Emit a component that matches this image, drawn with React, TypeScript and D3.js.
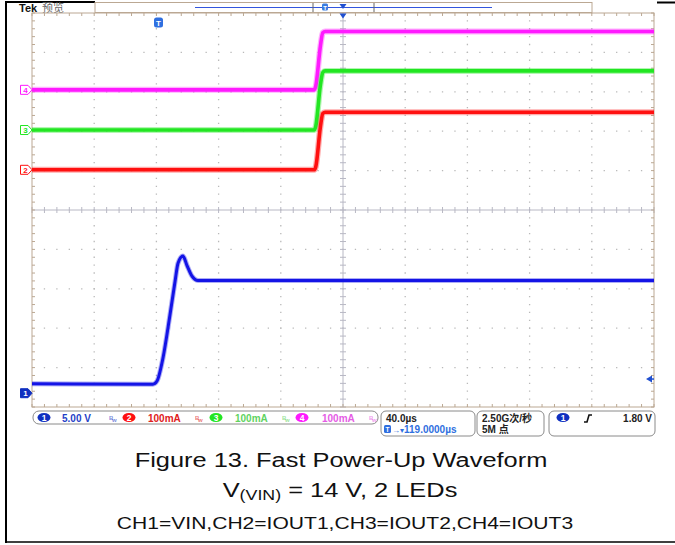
import React from "react";
import * as d3 from "d3";

// ---- data (time in µs relative to trigger) ----
const vinTime = [-81, -3.2, -0.6, 3.2, 7.7, 11.0, 12.9, 16.1, 18.7, 21.9, 25.7, 40, 319];
const vinVolts = [1.2, 1.15, 1.55, 4.44, 9.9, 14.2, 16.5, 17.4, 16.2, 14.85, 14.3, 14.3, 14.3];
const stepTime = [-81, 100.5, 101.5, 104.5, 106, 107.5, 319];
const iout1 = [0, 0, 8, 110, 143, 146, 146];
const iout2 = [0, 0, 10, 115, 146, 150, 150];
const iout3 = [0, 0, 10, 112, 145, 148, 148];
const channelIds = ["1", "2", "3", "4"];
const channelScales = ["5.00 V", "100mA", "100mA", "100mA"];
const perDiv = [5, 100, 100, 100];
const groundDiv = [-4.65, 1.02, 2.03, 3.05];
const channelColors = ["#1414e6", "#ff1010", "#22e622", "#ff1aff"];
const labelColors = ["#1f3fc8", "#e02020", "#5fd35f", "#e55ce5"];
const timeDiv = "40.0µs";
const horizPos = "119.0000µs";
const sampleRate = "2.50G次/秒";
const recordLen = "5M 点";
const trigLevel = "1.80 V";
const captionTitle = "Figure 13. Fast Power-Up Waveform";
const captionLine3 = "CH1=VIN,CH2=IOUT1,CH3=IOUT2,CH4=IOUT3";

const X0 = 32, X1 = 654, Y0 = 13, Y1 = 407;
const xScale = d3.scaleLinear().domain([-81, 319]).range([X0, X1]);
const xDiv = d3.scaleLinear().domain([-5, 5]).range([X0, X1]);
const yDiv = d3.scaleLinear().domain([-5, 5]).range([Y1, Y0]);
const FRAME = "#bba893";
const DOT = "#b9b9b9";

function tracePath(times: number[], vals: number[], ch: number) {
  const line = d3
    .line<number>()
    .x((_, i) => xScale(times[i]))
    .y((v) => yDiv(groundDiv[ch] + v / perDiv[ch]))
    .curve(d3.curveMonotoneX);
  return line(vals) || "";
}

export default function App() {
  const majors = d3.range(-4, 5).filter((d) => d !== 0);
  const hMinor = d3.range(-5, 5.001, 0.2);
  const vMinor = d3.range(-5, 5.001, 0.2);
  const traces = [
    { ch: 3, t: stepTime, v: iout3 },
    { ch: 2, t: stepTime, v: iout2 },
    { ch: 1, t: stepTime, v: iout1 },
    { ch: 0, t: vinTime, v: vinVolts },
  ];
  const mono = "'Liberation Sans', Arial, sans-serif";
  const cjk = "'Liberation Sans', 'Noto Sans CJK SC', sans-serif";
  const ellipseXs = [44, 129, 216, 302];
  const textXs = [62, 148, 235, 322];
  const bwXs = [109, 195, 282, 369];
  return (
    <svg
      width={675}
      height={545}
      style={{ position: "absolute", left: 0, top: 0, background: "#fff" }}
      fontFamily={mono}
    >
      <rect x={0} y={0} width={675} height={545} fill="#fff" />
      {/* outer black border pieces */}
      <line x1={5} x2={95} y1={2} y2={2} stroke="#000" strokeWidth={2} />
      <line x1={657} x2={675} y1={2.5} y2={2.5} stroke="#000" strokeWidth={2} />
      <line x1={6} x2={6} y1={1} y2={543} stroke="#000" strokeWidth={2} />
      <line x1={5} x2={675} y1={542} y2={542} stroke="#000" strokeWidth={1.5} />

      {/* header */}
      <text x={19} y={11.5} fontSize={11} fontWeight="bold" fill="#111">Tek</text>
      <text x={42} y={12} fontSize={11} fill="#666" fontFamily="'Noto Sans CJK SC', sans-serif">预览</text>
      {/* record bar */}
      <rect x={95} y={2.5} width={497} height={10} fill="#fff" stroke={FRAME} strokeWidth={1} />
      <line x1={195} x2={492} y1={7.5} y2={7.5} stroke="#3355dd" strokeWidth={1} />
      <line x1={313} x2={313} y1={3} y2={12} stroke="#666" strokeWidth={1} />
      <line x1={374} x2={374} y1={3} y2={12} stroke="#666" strokeWidth={1} />
      <rect x={322} y={3.5} width={6} height={7} rx={1.5} fill="#3a7ce0" />
      <text x={325} y={9.5} fontSize={6} fill="#fff" textAnchor="middle" fontWeight="bold">T</text>
      <path d="M339.5,4 L346.5,4 L343,9 Z" fill="#2050d0" />

      {/* graticule dots */}
      {majors.map((d) => (
        <line key={"v" + d} x1={xDiv(d)} x2={xDiv(d)} y1={Y0} y2={Y1}
          stroke={DOT} strokeWidth={1.3} strokeDasharray="1.3 6.58" strokeDashoffset={-7.2} />
      ))}
      {majors.map((d) => (
        <line key={"h" + d} x1={X0} x2={X1} y1={yDiv(d)} y2={yDiv(d)}
          stroke={DOT} strokeWidth={1.3} strokeDasharray="1.3 11.14" strokeDashoffset={-11.8} />
      ))}
      {/* center crosshair */}
      <line x1={X0} x2={X1} y1={yDiv(0)} y2={yDiv(0)} stroke="#b8b8c4" strokeWidth={1} />
      <line x1={xDiv(0)} x2={xDiv(0)} y1={Y0} y2={Y1} stroke="#b8b8c4" strokeWidth={1} />
      {hMinor.map((d, i) => (
        <g key={"hm" + i}>
          <line x1={xDiv(d)} x2={xDiv(d)} y1={yDiv(0) - 3} y2={yDiv(0) + 3} stroke="#b8b8c4" />
          <line x1={xDiv(d)} x2={xDiv(d)} y1={Y0} y2={Y0 + 3} stroke={FRAME} />
          <line x1={xDiv(d)} x2={xDiv(d)} y1={Y1 - 3} y2={Y1} stroke={FRAME} />
        </g>
      ))}
      {vMinor.map((d, i) => (
        <g key={"vm" + i}>
          <line x1={xDiv(0) - 3} x2={xDiv(0) + 3} y1={yDiv(d)} y2={yDiv(d)} stroke="#b8b8c4" />
          <line x1={X0} x2={X0 + 3} y1={yDiv(d)} y2={yDiv(d)} stroke={FRAME} />
          <line x1={X1 - 3} x2={X1} y1={yDiv(d)} y2={yDiv(d)} stroke={FRAME} />
        </g>
      ))}
      <rect x={X0} y={Y0} width={X1 - X0} height={Y1 - Y0} fill="none" stroke={FRAME} strokeWidth={1} />

      {/* traces */}
      {traces.map((tr) => (
        <g key={"tr" + tr.ch}>
          <path d={tracePath(tr.t, tr.v, tr.ch)} fill="none" stroke={channelColors[tr.ch]}
            strokeWidth={tr.ch === 0 ? 5 : 6} strokeOpacity={0.35} />
          <path d={tracePath(tr.t, tr.v, tr.ch)} fill="none" stroke={channelColors[tr.ch]}
            strokeWidth={tr.ch === 0 ? 3 : 3.6} />
        </g>
      ))}

      {/* trigger markers */}
      <rect x={154} y={17.5} width={9} height={10} rx={2.5} fill="#2f6fe0" />
      <text x={158.5} y={25.5} fontSize={8} fontWeight="bold" fill="#fff" textAnchor="middle">T</text>
      <path d="M339.5,13.5 L346.5,13.5 L343,18.5 Z" fill="#2050d0" />
      <path d={`M646,${yDiv(groundDiv[0] + 1.8 / 5)} l6,-3.5 l0,7 Z`} fill="#2050d0" />
      <line x1={649} x2={654} y1={yDiv(groundDiv[0] + 1.8 / 5)} y2={yDiv(groundDiv[0] + 1.8 / 5)} stroke="#2050d0" strokeWidth={1.5} />

      {/* channel ground markers */}
      {channelIds.map((id, i) => {
        const y = yDiv(groundDiv[i]);
        const filled = i === 0;
        return (
          <g key={"m" + id}>
            <path d={`M20.5,${y - 4.5} L28,${y - 4.5} L32,${y} L28,${y + 4.5} L20.5,${y + 4.5} Z`}
              fill={filled ? "#1030c0" : "#fff"} stroke={filled ? "#1030c0" : channelColors[i]} strokeWidth={1} />
            <text x={25.5} y={y + 3} fontSize={8} fontWeight="bold" textAnchor="middle"
              fill={filled ? "#fff" : channelColors[i]}>{id}</text>
          </g>
        );
      })}

      {/* status bar */}
      <rect x={33} y={411} width={345} height={13} rx={6} fill="#fff" stroke="#8a8a8a" strokeWidth={1} />
      {channelIds.map((id, i) => (
        <g key={"s" + id}>
          <ellipse cx={ellipseXs[i]} cy={417.5} rx={6.5} ry={4.5}
            fill={i === 0 ? "#1030c0" : channelColors[i]} />
          <text x={ellipseXs[i]} y={421} fontSize={8.5} fontWeight="bold" fill="#fff" textAnchor="middle">{id}</text>
          <text x={textXs[i]} y={421.5} fontSize={10} fontWeight="bold" fill={labelColors[i]}>{channelScales[i]}</text>
          <text x={bwXs[i]} y={420} fontSize={6} fontWeight="bold" fill={labelColors[i]} opacity={0.6}>B</text>
          <text x={bwXs[i] + 3} y={422} fontSize={6} fontWeight="bold" fill={labelColors[i]} opacity={0.6}>w</text>
        </g>
      ))}
      <rect x={381} y={411} width={94} height={25} rx={5} fill="#fff" stroke="#8a8a8a" strokeWidth={1} />
      <text x={386} y={421.5} fontSize={10} fontWeight="bold" fill="#222">{timeDiv}</text>
      <rect x={384} y={425} width={7} height={8} rx={1.5} fill="#2f6fe0" />
      <text x={387.5} y={431.5} fontSize={6.5} fontWeight="bold" fill="#fff" textAnchor="middle">T</text>
      <text x={392} y={432.5} fontSize={8} fill="#2f6fe0">→▾</text>
      <text x={404} y={433} fontSize={10} fontWeight="bold" fill="#2f6fe0">{horizPos}</text>
      <rect x={477} y={411} width={67} height={25} rx={5} fill="#fff" stroke="#8a8a8a" strokeWidth={1} />
      <text x={482} y={421.5} fontSize={10} fontWeight="bold" fill="#222" fontFamily={cjk}>{sampleRate}</text>
      <text x={482} y={432.5} fontSize={10} fontWeight="bold" fill="#222" fontFamily={cjk}>{recordLen}</text>
      <rect x={549} y={411} width={106} height={25} rx={5} fill="#fff" stroke="#8a8a8a" strokeWidth={1} />
      <ellipse cx={563} cy={417.5} rx={6.5} ry={4.5} fill="#1030c0" />
      <text x={563} y={421} fontSize={8.5} fontWeight="bold" fill="#fff" textAnchor="middle">1</text>
      <path d="M584,422 L587,422 L589,415 L592,415" fill="none" stroke="#111" strokeWidth={1.6} />
      <text x={652} y={421.5} fontSize={10} fontWeight="bold" fill="#222" textAnchor="end">{trigLevel}</text>

      {/* caption */}
      <g transform="translate(341,0) scale(1.27,1)">
        <text x={0} y={467} fontSize={20} textAnchor="middle" fill="#111" fontFamily="'Liberation Sans', Arial, sans-serif">{captionTitle}</text>
      </g>
      <g transform="translate(340,0) scale(1.27,1)">
        <text x={0} y={497} fontSize={20} textAnchor="middle" fill="#111" fontFamily="'Liberation Sans', Arial, sans-serif">
          V<tspan fontSize={14} dy={3}>(VIN)</tspan><tspan dy={-3}> = 14 V, 2 LEDs</tspan>
        </text>
      </g>
      <g transform="translate(345,0) scale(1.24,1)">
        <text x={0} y={529} fontSize={17} textAnchor="middle" fill="#111" fontFamily="'Liberation Sans', Arial, sans-serif">{captionLine3}</text>
      </g>
    </svg>
  );
}
